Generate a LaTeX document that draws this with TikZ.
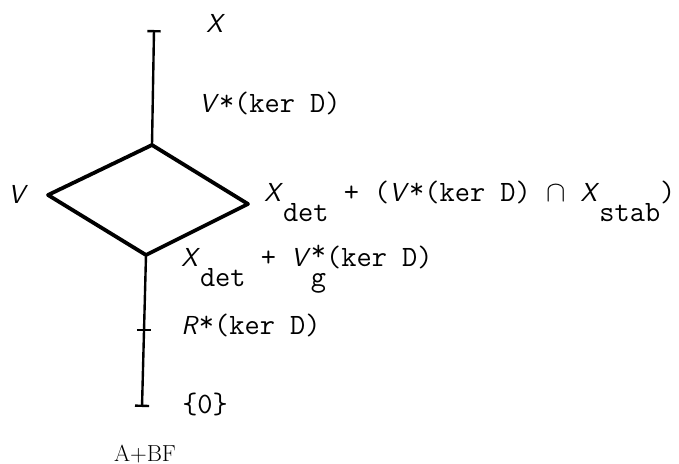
\documentclass[tikz,border=0pt]{standalone}
\usepackage{tikz}
\usetikzlibrary{arrows.meta}
\newcommand{\lv}[1]{{\fontsize{18.5}{21}\selectfont\textsf{\itshape #1}}}
\newcommand{\lowpart}[1]{\raisebox{-0.7em}{#1}}
\newcommand{\vstar}{\lv{V}\raisebox{0.1em}{*}}

\begin{document}
\begin{tikzpicture}[x=0.25mm, y=-0.25mm, font=\fontsize{21}{24}\selectfont\ttfamily,
    lbl/.style={anchor=base west, inner sep=0pt},
    lat/.style={line width=1.7pt},
    side/.style={line width=2.7pt, line join=round}]
    \useasboundingbox (0,0) rectangle (679,464);

    % lattice points
    \coordinate (top) at (154,30);
    \coordinate (n)   at (152,145);
    \coordinate (w)   at (48,195);
    \coordinate (e)   at (248,204);
    \coordinate (s)   at (146,255);
    \coordinate (mid) at (144,330);
    \coordinate (bot) at (142,407);

    \draw[side] (n) -- (w) -- (s) -- (e) -- cycle;
    \draw[lat, {Bar[width=9.5pt]}-] (top) -- (n);
    \draw[lat, -{Bar[width=10pt]}] (s) -- (bot);
    \draw[lat] ([xshift=-5pt]mid) -- ([xshift=5pt]mid);

    % labels
    \node[lbl] (lx)  at (206,33)  {\lv{X}};
    \node[lbl] (lvk) at (199,113) {\vstar(ker D)};
    \node[lbl] (lv)  at (8,203)   {\lv{V}};
    \node[lbl] (le)  at (264,201) {\lv{X}\lowpart{det} + (\vstar(ker D) $\cap$ \lv{X}\lowpart{stab})};
    \node[lbl] (ls)  at (181,266) {\lv{X}\lowpart{det} + \lv{V}\rlap{\raisebox{0.2em}{*}}\lowpart{g}(ker D)};
    \node[lbl] (lr)  at (181,334) {\lv{R}\raisebox{0.1em}{*}(ker D)};
    \node[lbl] (lz)  at (182,413) {\{0\}};
    \node[anchor=center, inner sep=0pt, font=\fontsize{16.5}{20}\selectfont\rmfamily] (lm) at (145,454) {A+BF};
\end{tikzpicture}
\end{document}
